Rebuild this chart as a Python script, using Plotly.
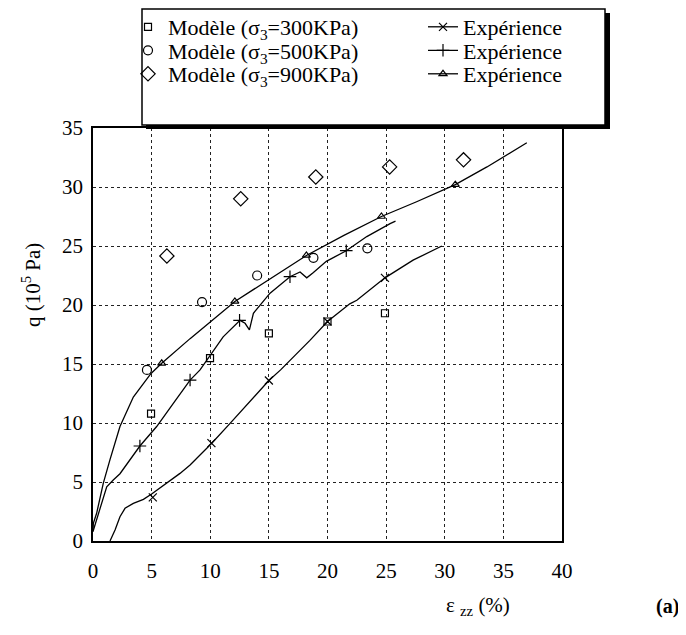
import plotly.graph_objects as go

# ---------------- data ----------------
# Model points (symbols only)
mod300_x = [4.95, 9.98, 15.0, 20.0, 24.9]
mod300_y = [10.8, 15.5, 17.6, 18.6, 19.3]
mod500_x = [4.6, 9.3, 14.0, 18.8, 23.4]
mod500_y = [14.5, 20.25, 22.5, 24.0, 24.8]
mod900_x = [6.3, 12.6, 19.0, 25.3, 31.6]
mod900_y = [24.15, 29.0, 30.85, 31.7, 32.3]

# Experimental curves
exp300_x = [1.45, 1.88, 2.3, 2.73, 3.44, 4.3, 5.0, 6.29, 7.42, 8.28, 10.13, 11.69, 13.4, 15.0, 16.0,
            16.8, 17.7, 18.5, 20.0, 21.9, 22.5, 24.9, 27.3, 29.75]
exp300_y = [0.0, 0.93, 2.06, 2.77, 3.19, 3.53, 3.98, 4.89, 5.73, 6.44, 8.28, 9.97, 11.8, 13.6, 14.5,
            15.3, 16.2, 17.0, 18.6, 20.1, 20.4, 22.3, 23.8, 25.0]
exp300_mx = [5.1, 10.1, 15.0, 20.0, 24.9]
exp300_my = [3.7, 8.3, 13.6, 18.6, 22.3]

exp500_x = [0.0, 0.17, 0.6, 1.17, 1.73, 2.3, 4.0, 5.43, 6.85, 8.28, 9.13, 9.98, 11.1, 12.54, 12.97,
            13.34, 13.68, 15.1, 16.8, 17.66, 18.23, 18.8, 19.9, 21.6, 23.35, 25.34, 25.8]
exp500_y = [0.8, 1.36, 2.9, 4.6, 5.17, 5.7, 8.05, 9.7, 11.67, 13.64, 14.5, 15.7, 17.3, 18.7, 18.45,
            17.9, 19.3, 21.0, 22.4, 22.8, 22.3, 22.75, 23.7, 24.6, 25.8, 26.9, 27.1]
exp500_mx = [4.0, 8.28, 12.5, 16.8, 21.6]
exp500_my = [8.05, 13.64, 18.7, 22.4, 24.6]

exp900_x = [0.0, 0.03, 0.31, 0.88, 1.45, 2.3, 3.44, 4.95, 5.86, 8.28, 12.1, 15.4, 18.2, 21.4, 24.6,
            27.6, 30.9, 33.6, 37.0]
exp900_y = [0.8, 1.5, 2.35, 4.9, 6.9, 9.7, 12.2, 14.2, 15.06, 17.15, 20.3, 22.4, 24.2, 25.9, 27.5,
            28.75, 30.2, 31.7, 33.75]
exp900_mx = [5.86, 12.1, 18.2, 24.6, 30.9]
exp900_my = [15.06, 20.3, 24.2, 27.5, 30.2]

x_ticks = [0, 5, 10, 15, 20, 25, 30, 35, 40]
y_ticks = [0, 5, 10, 15, 20, 25, 30, 35]

legend_model = ["Modèle (σ<sub>3</sub>=300KPa)", "Modèle (σ<sub>3</sub>=500KPa)", "Modèle (σ<sub>3</sub>=900KPa)"]
legend_exp = "Expérience"

# ---------------- figure ----------------
FONT = "Liberation Serif, Times New Roman, serif"
BLK = "black"
fig = go.Figure()

# The page body has an 8px margin: figure = page coords - 8
W, H = 678, 627
L, R, T, B = 93, 562, 128, 541   # plot area in page px
OFF = 8
def px2x(p):
    return (p - L) / (R - L)
def px2y(p):
    return (B - p) / (B - T)

model_specs = [
    (mod300_x, mod300_y, "square-open", 7),
    (mod500_x, mod500_y, "circle-open", 9),
    (mod900_x, mod900_y, "diamond-open", 11),
]
exp_specs = [
    (exp300_x, exp300_y, exp300_mx, exp300_my, "x-thin-open", 8),
    (exp500_x, exp500_y, exp500_mx, exp500_my, "cross-thin-open", 9),
    (exp900_x, exp900_y, exp900_mx, exp900_my, "triangle-up-open", 7),
]

for i, ((mx, my, sym, sz), (ex, ey, emx, emy, esym, esz)) in enumerate(zip(model_specs, exp_specs)):
    lg_model = "legend" if i == 0 else f"legend{2 * i + 1}"
    lg_exp = f"legend{2 * i + 2}"
    fig.add_trace(go.Scatter(x=ex, y=ey, mode="lines", line=dict(color=BLK, width=1.3),
                             showlegend=False, hoverinfo="skip"))
    fig.add_trace(go.Scatter(x=emx, y=emy, mode="markers",
                             marker=dict(symbol=esym, size=esz, color=BLK, line=dict(color=BLK, width=1.2)),
                             showlegend=False))
    fig.add_trace(go.Scatter(x=mx, y=my, mode="markers", name=legend_model[i], legend=lg_model,
                             marker=dict(symbol=sym, size=sz, color=BLK, line=dict(color=BLK, width=1.2))))
    fig.add_trace(go.Scatter(x=[None], y=[None], mode="lines+markers", name=legend_exp, legend=lg_exp,
                             line=dict(color=BLK, width=1.3),
                             marker=dict(symbol=esym, size=esz, color=BLK, line=dict(color=BLK, width=1.2))))

row_y = [27, 50.5, 74]
col_x = [128, 423]
legends = {}
for i in range(3):
    for j in range(2):
        k = 2 * i + j + 1
        key = "legend" if k == 1 else f"legend{k}"
        legends[key] = dict(x=px2x(col_x[j]), y=px2y(row_y[i]), xanchor="left", yanchor="middle",
                            bgcolor="rgba(0,0,0,0)", borderwidth=0,
                            font=dict(family=FONT, size=22, color=BLK))

axis_common = dict(showline=True, linecolor=BLK, linewidth=1.5, mirror=True,
                   showgrid=True, gridcolor="#222", gridwidth=1, griddash="dot",
                   zeroline=False, ticks="", tickfont=dict(family=FONT, size=21, color=BLK))

fig.update_layout(
    width=W, height=H,
    margin=dict(l=L - OFF, r=W - (R - OFF), t=T - OFF, b=H - (B - OFF), autoexpand=False),
    paper_bgcolor="white", plot_bgcolor="white",
    font=dict(family=FONT, color=BLK),
    xaxis=dict(range=[0, 40], tickvals=x_ticks, ticklabelstandoff=10, **axis_common),
    yaxis=dict(range=[0, 35], tickvals=y_ticks, ticklabelstandoff=4, **axis_common),
    **legends,
)

# legend box with shadow
fig.add_shape(type="rect", xref="paper", yref="paper",
              x0=px2x(146), x1=px2x(610), y0=px2y(129), y1=px2y(13),
              fillcolor=BLK, line=dict(width=0), layer="above")
fig.add_shape(type="rect", xref="paper", yref="paper",
              x0=px2x(142), x1=px2x(605), y0=px2y(125), y1=px2y(9),
              fillcolor="white", line=dict(color=BLK, width=1.5), layer="above")

# axis titles and panel label
fig.add_annotation(text="q (10<sup>5</sup> Pa)", xref="paper", yref="paper",
                   x=px2x(31), y=px2y(285), xanchor="center", yanchor="middle",
                   textangle=-90, showarrow=False,
                   font=dict(family=FONT, size=21, color=BLK))
fig.add_annotation(text="ε <sub>zz</sub> (%)", xref="paper", yref="paper",
                   x=px2x(478), y=px2y(606), xanchor="center", yanchor="middle", showarrow=False,
                   font=dict(family=FONT, size=21, color=BLK))
fig.add_annotation(text="<b>(a)</b>", xref="paper", yref="paper",
                   x=px2x(667), y=px2y(606), xanchor="center", yanchor="middle", showarrow=False,
                   font=dict(family=FONT, size=20, color=BLK))

fig.write_html("out.html")
